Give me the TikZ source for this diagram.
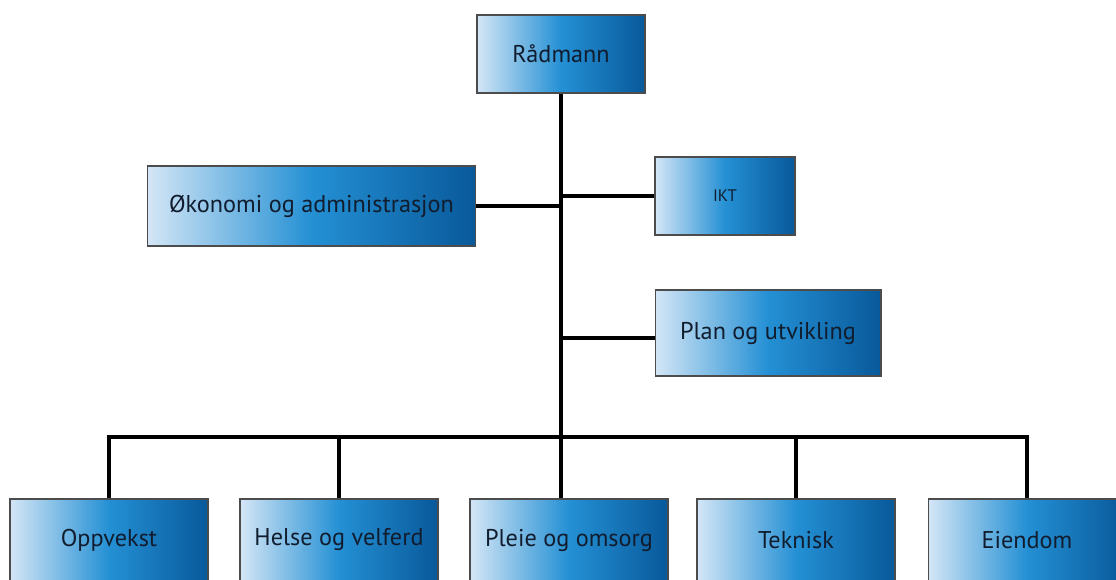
\documentclass[tikz,border=0pt]{standalone}
\usepackage{fontspec}
\setmainfont{PT Sans}
\definecolor{boxlight}{HTML}{D4E6F6}
\definecolor{boxmid}{HTML}{2490D4}
\definecolor{boxdark}{HTML}{08599A}
\definecolor{boxtext}{HTML}{111D2E}
\begin{document}
\begin{tikzpicture}[x=0.02cm,y=-0.02cm,
	unit/.style={draw=black!70,line width=0.6pt,left color=boxlight,right color=boxdark,middle color=boxmid,
		text=boxtext,font=\fontsize{13.8}{16}\selectfont,inner sep=2pt},
	dept/.style={unit,minimum width=3.96cm,minimum height=1.64cm},
	link/.style={line width=2pt,black}]
	\clip (0,0) rectangle (1116,580);

	% top
	\node[unit,minimum width=3.36cm,minimum height=1.56cm] (raadmann) at (561,54) {Rådmann};

	% staff
	\node[unit,minimum width=6.58cm,minimum height=1.6cm] (okonomi) at (311.5,206) {Økonomi og administrasjon};
	\node[unit,minimum width=2.8cm,minimum height=1.56cm,font=\fontsize{9.5}{11}\selectfont] (ikt) at (725,196) {IKT};
	\node[unit,minimum width=4.52cm,minimum height=1.72cm] (plan) at (768,333) {Plan og utvikling};

	% departments
	\node[dept] (oppvekst) at (109,540) {Oppvekst};
	\node[dept] (helse) at (339,540) {Helse og velferd};
	\node[dept] (pleie) at (569,540) {Pleie og omsorg};
	\node[dept] (teknisk) at (796,540) {Teknisk};
	\node[dept] (eiendom) at (1027,540) {Eiendom};

	\coordinate (bus) at (561,437);

	\draw[link] (raadmann.south) -- (bus);
	\draw[link] (okonomi.east) -- (okonomi.east -| bus);
	\draw[link] (ikt.west) -- (ikt.west -| bus);
	\draw[link] ([yshift=-2.8pt]plan.west) -- ([yshift=-2.8pt]plan.west -| bus);
	\draw[link] (oppvekst.north) |- (bus) -| (eiendom.north);
	\draw[link] (helse.north) -- (helse.north |- bus);
	\draw[link] (bus) -- (bus |- pleie.north);
	\draw[link] (teknisk.north) -- (teknisk.north |- bus);
\end{tikzpicture}
\end{document}
